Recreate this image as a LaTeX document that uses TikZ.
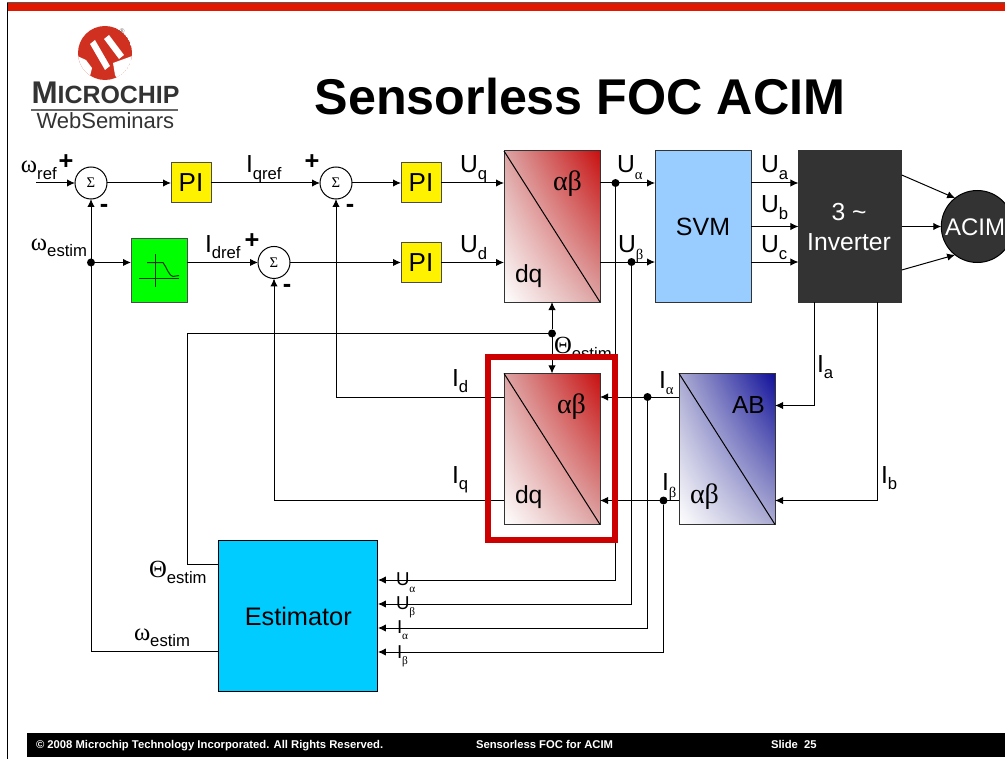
\documentclass[tikz,border=0pt]{standalone}
\usepackage{fontspec}
\usepackage{xcolor}
\setmainfont{Liberation Sans}
\newfontfamily\grkfont{Liberation Serif}
\usepackage{tikz}
\usetikzlibrary{shapes,arrows,arrows.meta,positioning,calc,shadings}

\definecolor{barred}{HTML}{E01800}
\definecolor{framered}{HTML}{CC0000}
\definecolor{svmblue}{HTML}{99CCFF}
\definecolor{estcyan}{HTML}{00CCFF}
\definecolor{darkblock}{HTML}{333333}
\definecolor{logored}{HTML}{D03020}
\definecolor{xfredmid}{HTML}{DCA4A4}
\definecolor{xfredtop}{HTML}{C81010}
\definecolor{xfbluemid}{HTML}{ABABD2}
\definecolor{xfbluetop}{HTML}{10109A}

\newcommand{\low}[1]{\raisebox{-5.2pt}{\fontsize{12.5}{12.5}\selectfont #1}}
\newcommand{\lowg}[1]{\raisebox{-5.2pt}{\grkfont\fontsize{11}{11}\selectfont #1}}
\newcommand{\lowgs}[1]{\raisebox{-5pt}{\grkfont\fontsize{8.5}{8.5}\selectfont #1}}
\newcommand{\grk}[1]{{\grkfont #1}}
\newcommand{\grkb}[1]{{\grkfont\fontsize{21}{21}\selectfont #1}}

\begin{document}
\begin{tikzpicture}[
    x=0.75pt, y=-0.75pt,
    line width=0.75pt,
    arr/.style={->, >={Latex[length=6pt,width=5.5pt]}},
    sumbox/.style={circle, draw, fill=white, minimum size=24pt, inner sep=0pt, outer sep=0pt, font=\grkfont\fontsize{11}{11}\selectfont},
    pibox/.style={rectangle, draw=black!70, fill=yellow, minimum width=30pt, minimum height=30pt, inner sep=0pt, outer sep=0pt, font=\fontsize{19.5}{19.5}\selectfont},
    block/.style={rectangle, draw=black!80, minimum width=#1, minimum height=113.25pt, inner sep=0pt, outer sep=0pt},
    block/.default=72pt,
    xfred/.style={block, shade, lower left=white, upper right=xfredtop, upper left=xfredmid, lower right=xfredmid},
    xfblue/.style={block, shade, lower left=white, upper right=xfbluetop, upper left=xfbluemid, lower right=xfbluemid},
    dotn/.style={circle, fill=black, minimum size=6pt, inner sep=0pt, outer sep=0pt},
    lbl/.style={anchor=base west, inner sep=0pt, outer sep=0pt, font=\fontsize{18.5}{18.5}\selectfont},
    lblsm/.style={anchor=base west, inner sep=0pt, outer sep=0pt, font=\fontsize{14}{14}\selectfont},
    sgn/.style={inner sep=0pt, outer sep=0pt, font=\bfseries\fontsize{19}{19}\selectfont},
    foot/.style={anchor=base west, inner sep=0pt, outer sep=0pt, text=white, font=\bfseries\fontsize{8.45}{8.45}\selectfont}
]
    \useasboundingbox (0,0) rectangle (1005,759);

    % Slide frame
    \fill[white] (0,0) rectangle (1005,759);
    \fill[black!65] (7,2) rectangle (1005,3);
    \fill[barred] (7,3) rectangle (1005,11);
    \fill[black] (7,3) rectangle (8.2,759);
    \node[rectangle, fill=black, anchor=north west, minimum width=734.25pt, minimum height=18pt, inner sep=0pt] (footbar) at (26,732) {};
    \node[foot] (footcopy) at (36,748) {© 2008 Microchip Technology Incorporated. All Rights Reserved.};
    \node[foot] (foottitle) at (476,748) {Sensorless FOC for ACIM};
    \node[foot] (footslide) at (771,748) {Slide~~25};

    % Logo
    \begin{scope}
        \clip (105,53) circle (27);
        \fill[logored] (105,53) circle (27);
        \fill[white] (90,44) -- (95,40) -- (110,66) -- (105,70) -- cycle;
        \fill[white] (104,39) -- (109,35) -- (124,55) -- (119,59) -- cycle;
        \fill[white] (75,55) -- (86,60) -- (92,68) -- (88,84) -- (72,84) -- cycle;
        \fill[white] (135,55) -- (113,63) -- (115,75) -- (120,84) -- (140,84) -- cycle;
    \end{scope}
    \node[inner sep=0pt, text=black!60, font=\fontsize{5}{5}\selectfont] (logoreg) at (122,31) {®};
    \node[anchor=base west, inner sep=0pt, text=darkblock, font=\bfseries\fontsize{23.5}{23.5}\selectfont] (logotext) at (31,104) {M{\fontsize{18.7}{18.7}\selectfont ICROCHIP}};
    \fill[black!60] (31,109.5) rectangle (178,111.5);
    \node[anchor=base west, inner sep=0pt, text=darkblock, font=\fontsize{16.5}{16.5}\selectfont] (logoweb) at (36,129) {WebSeminars};

    % Title
    \node[anchor=base, inner sep=0pt, font=\bfseries\fontsize{37.7}{37.7}\selectfont] (title) at (580,115) {Sensorless FOC ACIM};

    % Top row
    \node[sumbox] (sumref) at (91,183) {Σ};
    \node[pibox, right=48pt of sumref] (pispeed) {PI};
    \node[sumbox, right=81.75pt of pispeed] (sumq) {Σ};
    \node[pibox, right=36.75pt of sumq] (piq) {PI};

    % Second row
    \node[pibox, below=29.6pt of piq] (pid) {PI};
    \node[sumbox, left=83.25pt of pid] (sumd) {Σ};
    \node[rectangle, draw=black!70, fill=green, minimum width=42pt, minimum height=48pt, inner sep=0pt, outer sep=0pt] (filt) at (159,270) {};
    \draw[black!80!green] (147,262.5) -- (163,262.5) .. controls (167,268) and (169,276) .. (173,276.5) -- (179,275.5);
    \draw[black!80!green] (139,278) -- (179,278);
    \draw[black!80!green] (155,254) -- (155,287);

    % Blocks
    \node[xfred] (parka) at (552,226.5) {};
    \node[block, fill=svmblue, right=41.25pt of parka, font=\fontsize{18.7}{18.7}\selectfont] (svm) {SVM};
    \node[block=77.5pt, fill=darkblock, right=35.6pt of svm] (inv) {};
    \node[circle, draw=black, fill=darkblock, minimum size=54pt, inner sep=0pt, outer sep=0pt, right=29.6pt of inv] (acim) {};
    \node[xfred, below=53.6pt of parka] (parkb) {};
    \node[xfblue, right=59.25pt of parkb] (clarke) {};
    \node[rectangle, draw=black, fill=estcyan, minimum width=119.5pt, minimum height=113.25pt, inner sep=0pt, outer sep=0pt, font=\fontsize{19}{19}\selectfont] (est) at (298.25,616) {Estimator};

    \draw (parka.north west) -- (parka.south east);
    \draw (parkb.north west) -- (parkb.south east);
    \draw (clarke.north west) -- (clarke.south east);

    % Junctions
    \node[dotn] (jomega) at (sumref |- sumd) {};
    \node[dotn] (jtheta) at ($(parka.south)!0.44!(parkb.north)$) {};
    \node[dotn] (jua) at (615.5,183) {};
    \node[dotn] (jub) at (631.5,262) {};
    \node[dotn] (jia) at (647.5,397) {};
    \node[dotn] (jib) at (663.5,500.5) {};

    % Forward path
    \coordinate (refin) at (36,183);
    \draw[arr] (refin) -- (sumref);
    \draw[arr] (sumref) -- (pispeed);
    \draw[arr] (pispeed) -- (sumq);
    \draw[arr] (sumq) -- (piq);
    \draw[arr] (piq) -- (piq -| parka.west);
    \draw[arr] (jomega) -- (jomega -| filt.west);
    \draw[arr] (jomega -| filt.east) -- (sumd);
    \draw[arr] (sumd) -- (pid);
    \draw[arr] (pid) -- (pid -| parka.west);
    \draw[arr] (jua -| parka.east) -- (jua -| svm.west);
    \draw[arr] (jub -| parka.east) -- (jub -| svm.west);
    \draw[arr] (jua -| svm.east) -- (jua -| inv.west);
    \draw[arr] (svm) -- (inv);
    \draw[arr] (jub -| svm.east) -- (jub -| inv.west);
    \draw[arr] ($(inv.east)+(0,38.6pt)$) -- (acim.128);
    \draw[arr] (inv) -- (acim);
    \draw[arr] ($(inv.east)+(0,-32.6pt)$) -- (acim.232);

    % Current feedback
    \coordinate (corna) at (814,405.5);
    \coordinate (cornb) at (877.5,500.5);
    \draw[arr] (inv.south -| corna) -- (corna) -- (corna -| clarke.east);
    \draw[arr] (inv.south -| cornb) -- (cornb) -- (cornb -| clarke.east);
    \draw[arr] (jia -| clarke.west) -- (jia -| parkb.east);
    \draw[arr] (jib -| clarke.west) -- (jib -| parkb.east);
    \draw[arr] (jia -| parkb.west) -| (sumq);
    \draw[arr] (jib -| parkb.west) -| (sumd);

    % Angle and speed
    \draw[arr] (jtheta) -- (parka.south);
    \draw[arr] (jtheta) -- (parkb.north);
    \coordinate (thetapt) at (est.west |- 0,564);
    \draw (jtheta) -| (187,564) -- (thetapt);
    \coordinate (omegapt) at (est.west |- 0,651.5);
    \draw[arr] (omegapt) -| (sumref);

    % Estimator inputs
    \draw[arr] (jua) |- (est.east |- 0,580);
    \draw[arr] (jub) |- (est.east |- 0,604);
    \draw[arr] (jia) |- (est.east |- 0,628);
    \draw[arr] (jib) |- (est.east |- 0,652);

    % Labels
    \node[lbl] (lomegaref) at (21,173) {\grk{ω}\low{ref}};
    \node[lbl] (lomega) at (31,250) {\grk{ω}\low{estim}};
    \node[lbl] (liqref) at (246,173) {I\low{qref}};
    \node[lbl] (lidref) at (205,252) {I\low{dref}};
    \node[lbl] (luq) at (460,173) {U\low{q}};
    \node[lbl] (lud) at (460,252.5) {U\low{d}};
    \node[lbl] (lua) at (617,173) {U\lowg{α}};
    \node[lbl] (lub) at (618,252.5) {U\lowg{β}};
    \node[lbl] (lusa) at (761,173) {U\low{a}};
    \node[lbl] (lusb) at (761,213) {U\low{b}};
    \node[lbl] (lusc) at (761,252.5) {U\low{c}};
    \node[lbl] (ltop) at (553,191) {\grkb{αβ}};
    \node[lbl] (ldq) at (515,282) {dq};
    \node[lbl] (lthetamid) at (554,353) {\grk{Θ}\low{estim}};
    \node[lbl] (lid) at (452,386) {I\low{d}};
    \node[lbl] (liq) at (452,483) {I\low{q}};
    \node[lbl] (lab) at (557,413) {\grkb{αβ}};
    \node[lbl] (ldqb) at (515,503) {dq};
    \node[lbl] (lia) at (659,388) {I\lowg{α}};
    \node[lbl] (lib) at (662,490.5) {I\lowg{β}};
    \node[lbl] (lab2) at (732,413) {AB};
    \node[lbl] (lab3) at (690,503) {\grkb{αβ}};
    \node[lbl] (lcura) at (817,372) {I\low{a}};
    \node[lbl] (lcurb) at (881,483) {I\low{b}};
    \node[lbl, anchor=base, text=white] (linva) at (849,220) {3 \textasciitilde};
    \node[lbl, anchor=base, text=white] (linvb) at (849,250) {Inverter};
    \node[lbl, anchor=base west, text=white, font=\fontsize{18}{18}\selectfont] (lacim) at (945,235) {ACIM};
    \node[lbl] (lthetalow) at (149,577) {\grk{Θ}\low{estim}};
    \node[lbl] (lomegalow) at (134,640) {\grk{ω}\low{estim}};
    \node[lblsm] (lsua) at (396,585.5) {U\lowgs{α}};
    \node[lblsm] (lsub) at (396,609) {U\lowgs{β}};
    \node[lblsm] (lsia) at (397,633) {I\lowgs{α}};
    \node[lblsm] (lsib) at (397,658) {I\lowgs{β}};

    % Signs
    \node[sgn] (plusa) at (66,162) {+};
    \node[sgn] (minusa) at (104,208) {-};
    \node[sgn] (plusb) at (312,162) {+};
    \node[sgn] (minusb) at (350,208) {-};
    \node[sgn] (plusc) at (252,241) {+};
    \node[sgn] (minusc) at (287,288) {-};

    % Highlight
    \node[rectangle, draw=framered, line width=4.5pt, minimum width=95.25pt, minimum height=137.25pt, inner sep=0pt, outer sep=0pt] (focus) at (551.5,448.5) {};
\end{tikzpicture}
\end{document}
